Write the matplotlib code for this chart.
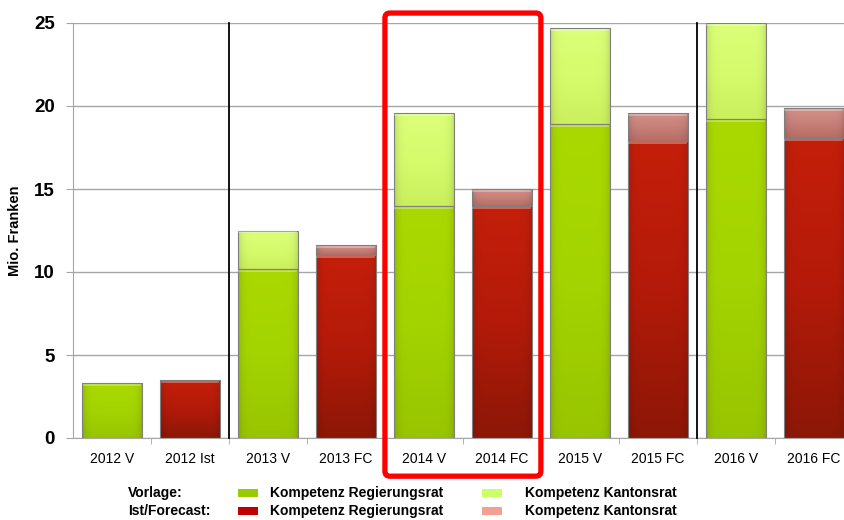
import matplotlib.pyplot as plt
import numpy as np
from matplotlib.patches import Rectangle, FancyBboxPatch
from matplotlib.colors import LinearSegmentedColormap
from matplotlib.transforms import IdentityTransform

plt.rcParams['font.family'] = ['Liberation Sans', 'DejaVu Sans']

# Budget per year: Vorlage (V) vs. Ist / Forecast (FC), in Mio. Franken
categories = ['2012 V', '2012 Ist', '2013 V', '2013 FC', '2014 V',
              '2014 FC', '2015 V', '2015 FC', '2016 V', '2016 FC']
regierungsrat = [3.3, 3.5, 10.2, 11.0, 14.0, 14.0, 18.9, 17.9, 19.2, 18.1]
kantonsrat = [0.0, 0.0, 2.3, 0.6, 5.6, 1.0, 5.8, 1.7, 5.8, 1.8]
is_forecast = [False, True, False, True, False, True, False, True, False, True]
separators = [1.5, 7.5]
highlight = (4, 5)

# gradient colours (top, mid, bottom) for each kind of segment
shade = {
    'v_rr': ('#aad900', '#a4d400', '#98c500'),
    'v_kr': ('#dbff78', '#d6fb6c', '#cbf05e'),
    'fc_rr': ('#c41f0b', '#b41a09', '#8d1707'),
    'fc_kr': ('#d39189', '#c78179', '#b66d66'),
}
legend_colors = {
    'v_rr': '#99cc00', 'v_kr': '#ccff66',
    'fc_rr': '#c00000', 'fc_kr': '#f4a090',
}

fig = plt.figure(figsize=(8.45, 5.2), dpi=100)
ax = fig.add_axes([73 / 845, 82 / 520, 772 / 845, 415 / 520])

width = 0.77
x = np.arange(len(categories))


def gradient_bar(xc, bottom, height, key):
    if height <= 0:
        return
    top_c, mid_c, bot_c = shade[key]
    cmap = LinearSegmentedColormap.from_list(key, [bot_c, mid_c, top_c])
    rect = Rectangle((xc - width / 2, bottom), width, height,
                     facecolor='none', edgecolor='#7f7f7f', lw=0.8, zorder=4)
    ax.add_patch(rect)
    grad = np.linspace(0, 1, 64).reshape(-1, 1)
    # darker towards the left/right edges for a slight bevel
    edge = np.linspace(-1, 1, 32)
    bevel = 1 - 0.12 * edge ** 8
    img = cmap(grad)[:, :, :3] * np.ones((1, 32, 1)) * bevel[None, :, None]
    im = ax.imshow(img, extent=[xc - width / 2, xc + width / 2, bottom, bottom + height],
                   origin='lower', aspect='auto', zorder=3, interpolation='bilinear')
    im.set_clip_path(rect)
    # thin highlight along the top of the segment
    ax.plot([xc - width / 2 + 0.02, xc + width / 2 - 0.02],
            [bottom + height - 0.12] * 2, color='white', alpha=0.35, lw=1.2, zorder=4)


for i in range(len(categories)):
    pre = 'fc' if is_forecast[i] else 'v'
    gradient_bar(x[i], 0, regierungsrat[i], pre + '_rr')
    gradient_bar(x[i], regierungsrat[i], kantonsrat[i], pre + '_kr')

ax.set_xlim(-0.5, 9.4)
ax.set_ylim(0, 25)

# horizontal grid and axes styling
ax.set_yticks([0, 5, 10, 15, 20, 25])
ax.yaxis.grid(True, color='#a6a6a6', lw=1)
ax.set_axisbelow(True)
for s in ['top', 'right']:
    ax.spines[s].set_visible(False)
ax.spines['left'].set_color('#a6a6a6')
ax.spines['bottom'].set_color('#a6a6a6')
ax.spines['bottom'].set_zorder(5)
ax.tick_params(axis='y', length=5, color='#a6a6a6', pad=8, labelsize=13.5)
for lbl in ax.get_yticklabels():
    lbl.set_fontweight('bold')

ax.set_xticks(x)
ax.set_xticklabels(categories, fontsize=10)
ax.tick_params(axis='x', length=0, pad=10)
ax.set_xticks(np.arange(0.5, 9.5, 1), minor=True)
ax.tick_params(axis='x', which='minor', length=4, color='#a6a6a6')

ax.set_ylabel('Mio. Franken', fontsize=10.5, fontweight='bold', labelpad=9)

# year separators
for sx in separators:
    ax.plot([sx, sx], [0, 25], color='black', lw=1.3, zorder=6, clip_on=False)

# red frame around 2014
fig.canvas.draw()
p0 = ax.transData.transform((highlight[0] - 0.5, -2.3))
p1 = ax.transData.transform((highlight[1] + 0.5, 25.6))
frame = FancyBboxPatch((p0[0], p0[1]), p1[0] - p0[0], p1[1] - p0[1],
                       boxstyle='round,pad=0,rounding_size=5',
                       transform=IdentityTransform(), fill=False,
                       edgecolor='#ff0000', lw=3.8, zorder=10, clip_on=False)
fig.patches.append(frame)

# legend below the chart
rows = [('Vorlage:', 'v', 1 - 493 / 520), ('Ist/Forecast:', 'fc', 1 - 511 / 520)]
for title, pre, yy in rows:
    fig.text(128 / 845, yy, title, fontsize=10, fontweight='bold', va='center')
    for key, px, tx in [('_rr', 238, 270), ('_kr', 482, 525)]:
        fig.patches.append(Rectangle((px / 845, yy - 4 / 520), 20 / 845, 8 / 520,
                                     transform=fig.transFigure,
                                     facecolor=legend_colors[pre + key], edgecolor='none'))
        name = 'Kompetenz Regierungsrat' if key == '_rr' else 'Kompetenz Kantonsrat'
        fig.text(tx / 845, yy, name, fontsize=10, fontweight='bold', va='center')

fig.savefig('out.png', dpi=100)
